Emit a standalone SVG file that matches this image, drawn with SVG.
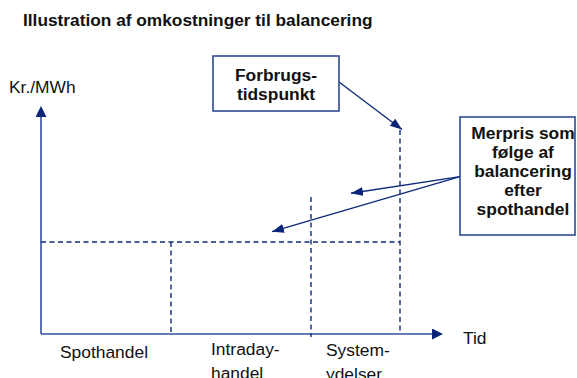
<svg xmlns="http://www.w3.org/2000/svg" width="577" height="378" viewBox="0 0 577 378">
<style>
text { font-family: "Liberation Sans", Arial, sans-serif; fill: #111; font-size: 17.4px; }
.b { font-weight: bold; }
.mid { text-anchor: middle; }
.axis { stroke: #33509c; stroke-width: 1.6; fill: none; }
.dash { stroke: #0f2a7a; stroke-width: 1.4; stroke-dasharray: 5 3.5; fill: none; }
.conn { stroke: #0f2a7a; stroke-width: 1.4; fill: none; }
.box { fill: #fff; stroke: #2e4a94; stroke-width: 1.6; }
</style>
<defs>
<marker id="axhead" markerUnits="userSpaceOnUse" markerWidth="12" markerHeight="12" refX="0" refY="5.5" orient="auto">
<path d="M0,0 L11,5.5 L0,11 z" fill="#0a2577"/>
</marker>
<marker id="head" markerUnits="userSpaceOnUse" markerWidth="13" markerHeight="10" refX="12" refY="4.5" orient="auto">
<path d="M0,0 L12,4.5 L0,9 z" fill="#0a2577"/>
</marker>
</defs>
<text id="title" class="b" x="23" y="26" style="font-size:17.3px">Illustration af omkostninger til balancering</text>
<g id="axes">
<line class="axis" x1="41" y1="334" x2="41" y2="117" marker-end="url(#axhead)"/>
<line class="axis" x1="41" y1="334" x2="432" y2="334" marker-end="url(#axhead)"/>
</g>
<g id="grid">
<line class="dash" x1="41" y1="242" x2="400" y2="242"/>
<line class="dash" x1="171" y1="242" x2="171" y2="334"/>
<line class="dash" x1="311" y1="197" x2="311" y2="337"/>
<line class="dash" x1="400" y1="130" x2="400" y2="334"/>
</g>
<g id="labels">
<text x="9" y="93">Kr./MWh</text>
<text x="463" y="344">Tid</text>
<text x="60" y="358">Spothandel</text>
<text x="211" y="355">Intraday-</text>
<text x="211" y="379">handel</text>
<text x="326" y="356">System-</text>
<text x="326" y="380">ydelser</text>
</g>
<g id="connectors">
<line class="conn" x1="339" y1="82" x2="402" y2="129.5" marker-end="url(#head)"/>
<line class="conn" x1="460" y1="176.6" x2="351" y2="193.3" marker-end="url(#head)"/>
<line class="conn" x1="460" y1="176.6" x2="272" y2="231.7" marker-end="url(#head)"/>
</g>
<g id="forbrugstidspunkt">
<rect class="box" x="213" y="56" width="126" height="55"/>
<text class="b mid" x="276" y="80.7">Forbrugs-</text>
<text class="b mid" x="276" y="100">tidspunkt</text>
</g>
<g id="merpris">
<rect class="box" x="460" y="117" width="115" height="118"/>
<text class="b mid" x="523" y="138.8">Merpris som</text>
<text class="b mid" x="523" y="157.8">følge af</text>
<text class="b mid" x="523" y="176.8">balancering</text>
<text class="b mid" x="523" y="195.8">efter</text>
<text class="b mid" x="523" y="214.8">spothandel</text>
</g>
</svg>
